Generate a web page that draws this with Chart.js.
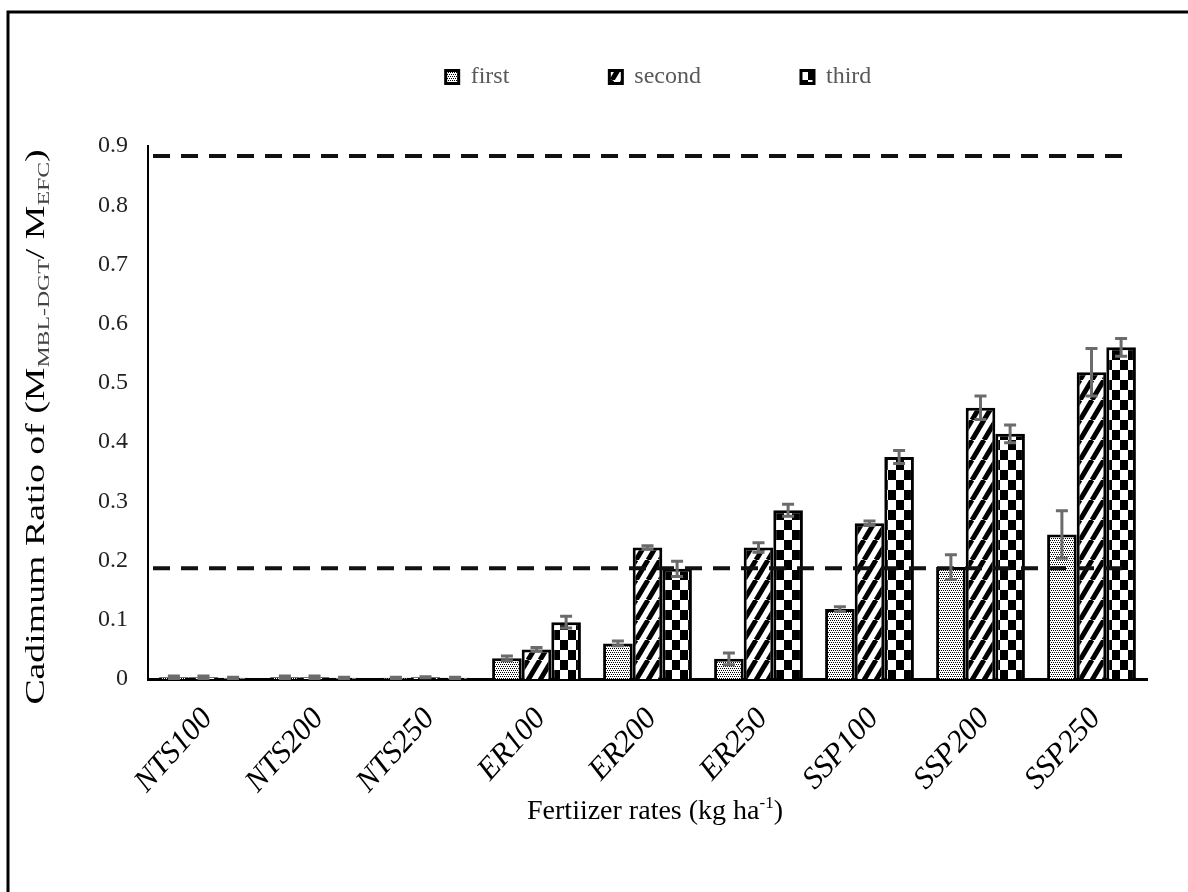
<!DOCTYPE html>
<html>
<head>
<meta charset="utf-8">
<script src="https://cdn.jsdelivr.net/npm/chart.js@4.4.1/dist/chart.umd.min.js"></script>
<style>
html,body{margin:0;padding:0;background:#fff;}
canvas{display:block;}
</style>
</head>
<body>
<canvas id="c" width="1188" height="892"></canvas>
<script>
// ---------- data ----------
const categories = ['NTS100','NTS200','NTS250','ER100','ER200','ER250','SSP100','SSP200','SSP250'];
const seriesNames = ['first','second','third'];
const firstValues  = [0.003,0.003,0.002,0.035,0.060,0.034,0.118,0.189,0.244];
const secondValues = [0.003,0.003,0.003,0.050,0.222,0.222,0.263,0.458,0.518];
const thirdValues  = [0.002,0.002,0.002,0.096,0.186,0.285,0.375,0.414,0.560];
const firstErrors  = [0.002,0.002,0.001,0.004,0.004,0.010,0.004,0.021,0.040];
const secondErrors = [0.002,0.002,0.001,0.003,0.003,0.008,0.004,0.020,0.040];
const thirdErrors  = [0.001,0.001,0.001,0.010,0.013,0.010,0.011,0.015,0.015];
const referenceLines = [0.883, 0.187];
const yTickLabels = ['0','0.1','0.2','0.3','0.4','0.5','0.6','0.7','0.8','0.9'];
const yAxisTitle = ['Cadimum Ratio of (M', 'MBL-DGT', '/ M', 'EFC', ')'];
const xAxisTitle = ['Fertiizer rates (kg ha', '-1', ')'];

// ---------- patterns ----------
function makePattern(type){
  const c = document.createElement('canvas');
  const x = c.getContext('2d');
  if (type === 'dots'){
    c.width = 4; c.height = 4;
    x.fillStyle = '#fff'; x.fillRect(0,0,4,4);
    x.fillStyle = '#000';
    x.fillRect(0,0,1,1); x.fillRect(2,0,1,1);
    x.fillRect(1,2,1,1); x.fillRect(3,2,1,1);
  } else if (type === 'stripes'){
    const w = 12, h = 20;
    c.width = w; c.height = h;
    x.fillStyle = '#fff'; x.fillRect(0,0,w,h);
    x.strokeStyle = '#000'; x.lineWidth = 5;
    [-w,0,w].forEach(o=>{ x.beginPath(); x.moveTo(o, h); x.lineTo(o+w, 0); x.stroke(); });
  } else {
    const w = 8, h = 10;
    c.width = 2*w; c.height = 2*h;
    x.fillStyle = '#fff'; x.fillRect(0,0,2*w,2*h);
    x.fillStyle = '#000';
    x.fillRect(0,0,w,h); x.fillRect(w,h,w,h);
  }
  return document.getElementById('c').getContext('2d').createPattern(c,'repeat');
}

const seriesValues = [firstValues, secondValues, thirdValues];
const seriesErrors = [firstErrors, secondErrors, thirdErrors];
const patterns = [makePattern('dots'), makePattern('stripes'), makePattern('checker')];

const datasets = seriesNames.map((name,i)=>({
  label: name,
  data: seriesValues[i],
  errors: seriesErrors[i],
  backgroundColor: patterns[i],
  borderColor: '#000',
  borderWidth: 3,
  categoryPercentage: 0.8,
  barPercentage: 1.0
}));

// ---------- plugins ----------
const framePlugin = {
  id: 'frame',
  beforeDraw(chart){
    const ctx = chart.ctx;
    ctx.save();
    ctx.fillStyle = '#fff';
    ctx.fillRect(0,0,chart.width,chart.height);
    ctx.strokeStyle = '#000';
    ctx.lineWidth = 3;
    ctx.beginPath();
    ctx.moveTo(8, chart.height); ctx.lineTo(8, 12); ctx.lineTo(chart.width, 12);
    ctx.stroke();
    ctx.restore();
  }
};

const overlayPlugin = {
  id: 'overlay',
  afterDatasetsDraw(chart){
    const ctx = chart.ctx;
    const ca = chart.chartArea;
    const y = chart.scales.y;
    // dashed reference lines
    ctx.save();
    ctx.strokeStyle = '#111';
    ctx.lineWidth = 4;
    ctx.setLineDash([17,11]);
    referenceLines.forEach(v=>{
      const py = y.getPixelForValue(v);
      ctx.beginPath(); ctx.moveTo(ca.left+5, py); ctx.lineTo(ca.right-14, py); ctx.stroke();
    });
    ctx.restore();
    // error bars
    ctx.save();
    ctx.strokeStyle = '#6b6b6b';
    ctx.lineWidth = 3;
    chart.data.datasets.forEach((ds,i)=>{
      const meta = chart.getDatasetMeta(i);
      meta.data.forEach((bar,j)=>{
        const v = ds.data[j], e = ds.errors[j];
        const yt = y.getPixelForValue(v+e), yb = y.getPixelForValue(Math.max(v-e,0));
        const x = bar.x;
        ctx.beginPath();
        ctx.moveTo(x, yt); ctx.lineTo(x, yb);
        ctx.moveTo(x-6, yt); ctx.lineTo(x+6, yt);
        ctx.moveTo(x-6, yb); ctx.lineTo(x+6, yb);
        ctx.stroke();
      });
    });
    ctx.restore();
  },
  afterDraw(chart){
    const ctx = chart.ctx;
    // Y axis title with subscripts
    const main = '27px "Liberation Serif"', sub = '17px "Liberation Serif"';
    const parts = [
      {t:yAxisTitle[0], f:main, dy:0, c:'#000'},
      {t:yAxisTitle[1], f:sub, dy:5, c:'#444'},
      {t:yAxisTitle[2], f:main, dy:0, c:'#000'},
      {t:yAxisTitle[3], f:sub, dy:5, c:'#444'},
      {t:yAxisTitle[4], f:main, dy:0, c:'#000'}
    ];
    ctx.save();
    let total = 0;
    parts.forEach(p=>{ ctx.font = p.f; p.w = ctx.measureText(p.t).width; total += p.w; });
    ctx.translate(44, 427);
    ctx.rotate(-Math.PI/2);
    ctx.scale(1.4, 1);
    ctx.textBaseline = 'alphabetic';
    ctx.textAlign = 'left';
    let x = -total/2;
    parts.forEach(p=>{ ctx.font = p.f; ctx.fillStyle = p.c; ctx.fillText(p.t, x, p.dy); x += p.w; });
    ctx.restore();
    // X axis title with superscript
    const xm = '28px "Liberation Serif"', xs = '17px "Liberation Serif"';
    const xp = [
      {t:xAxisTitle[0], f:xm, dy:0},
      {t:xAxisTitle[1], f:xs, dy:-11},
      {t:xAxisTitle[2], f:xm, dy:0}
    ];
    ctx.save();
    let tw = 0;
    xp.forEach(p=>{ ctx.font = p.f; p.w = ctx.measureText(p.t).width; tw += p.w; });
    let xx = 655 - tw/2;
    ctx.fillStyle = '#000';
    ctx.textBaseline = 'alphabetic';
    xp.forEach(p=>{ ctx.font = p.f; ctx.fillText(p.t, xx, 819 + p.dy); xx += p.w; });
    ctx.restore();
  }
};

// ---------- chart ----------
new Chart(document.getElementById('c'), {
  type: 'bar',
  data: { labels: categories, datasets: datasets },
  options: {
    responsive: false,
    animation: false,
    devicePixelRatio: 1,
    layout: { padding: { top: -35, left: 78, right: -51, bottom: 0 } },
    plugins: {
      legend: {
        display: true,
        position: 'top',
        weight: 3000,
        labels: {
          font: { family: '"Liberation Serif"', size: 24 },
          color: '#595959',
          boxWidth: 13,
          boxHeight: 13,
          padding: 100
        }
      },
      title: {
        display: true,
        text: '',
        position: 'top',
        weight: 2000,
        font: { size: 10 },
        padding: { top: 0, bottom: 35 }
      },
      tooltip: { enabled: false }
    },
    scales: {
      x: {
        grid: { display: false, drawTicks: false },
        border: { display: true, color: '#000', width: 3 },
        ticks: {
          autoSkip: false,
          minRotation: 48,
          maxRotation: 48,
          padding: 22,
          labelOffset: 4,
          color: '#000',
          font: { family: '"Liberation Serif"', size: 31, style: 'italic' }
        },
        afterFit(s){ s.height = 213; }
      },
      y: {
        min: 0,
        max: 0.9,
        grid: { display: false, drawTicks: false },
        border: { display: true, color: '#000', width: 2 },
        ticks: {
          stepSize: 0.1,
          padding: 20,
          color: '#222',
          font: { family: '"Liberation Serif"', size: 24 },
          callback: (v) => yTickLabels[Math.round(v * 10)]
        }
      },
      y2: {
        position: 'right',
        display: true,
        grid: { display: false, drawTicks: false },
        border: { display: false },
        ticks: { display: false },
        afterFit(s){ s.width = 92; }
      }
    }
  },
  plugins: [framePlugin, overlayPlugin]
});
</script>
</body>
</html>
